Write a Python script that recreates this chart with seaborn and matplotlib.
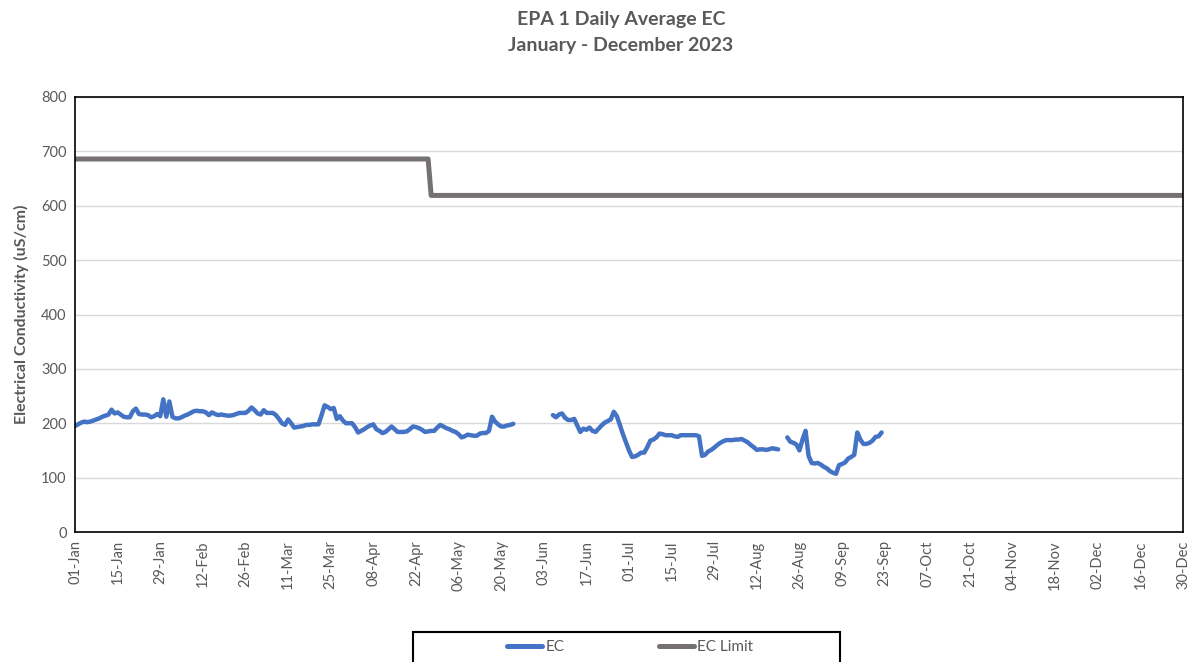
import numpy as np
import pandas as pd
import matplotlib
matplotlib.use("Agg")
import matplotlib.pyplot as plt
from matplotlib.patches import Rectangle
from matplotlib.lines import Line2D
import seaborn as sns

# --- data (x = day of year, 0 = 01-Jan) ---
tick_labels = ["01-Jan", "15-Jan", "29-Jan", "12-Feb", "26-Feb", "11-Mar", "25-Mar",
               "08-Apr", "22-Apr", "06-May", "20-May", "03-Jun", "17-Jun", "01-Jul",
               "15-Jul", "29-Jul", "12-Aug", "26-Aug", "09-Sep", "23-Sep", "07-Oct",
               "21-Oct", "04-Nov", "18-Nov", "02-Dec", "16-Dec", "30-Dec"]

# EC daily averages, three runs of data separated by gaps
ec_start_1 = 0
ec_run_1 = [195, 198, 201, 203, 202, 203, 205, 207, 209, 212, 214, 216, 225, 218, 220,
            216, 212, 211, 211, 222, 227, 217, 216, 216, 215, 211, 213, 217, 213, 244,
            212, 240, 212, 209, 209, 211, 214, 216, 219, 222, 223, 222, 222, 220, 215,
            220, 217, 215, 216, 215, 214, 214, 215, 217, 219, 219, 219, 223, 229, 224,
            218, 216, 224, 219, 219, 219, 215, 208, 200, 197, 207, 200, 192, 193, 194,
            195, 197, 197, 198, 198, 198, 215, 233, 230, 226, 228, 208, 213, 205, 200,
            200, 200, 193, 183, 186, 189, 193, 196, 198, 189, 186, 182, 184, 189, 194,
            189, 184, 184, 184, 185, 189, 194, 193, 191, 188, 184, 185, 186, 186, 192,
            197, 194, 191, 189, 186, 184, 180, 174, 176, 179, 178, 177, 177, 181, 182,
            182, 186, 212, 203, 198, 194, 194, 196, 197, 199]

ec_start_2 = 157
ec_run_2 = [215, 211, 216, 218, 210, 206, 206, 208, 196, 184, 190, 188, 192, 186, 184,
            190, 196, 201, 204, 207, 221, 213, 197, 180, 165, 150, 138, 139, 142, 146,
            146, 156, 168, 170, 174, 181, 180, 178, 178, 178, 176, 175, 178, 178, 178,
            178, 178, 178, 176, 140, 142, 148, 151, 155, 160, 164, 167, 169, 169, 169,
            170, 170, 171, 168, 165, 160, 156, 151, 152, 152, 151, 152, 154, 153, 152]

ec_start_3 = 234
ec_run_3 = [174, 166, 164, 161, 150, 170, 186, 140, 127, 126, 127, 124, 120, 117, 112,
            109, 107, 123, 125, 128, 135, 138, 142, 183, 170, 162, 162, 164, 168, 175,
            176, 183]

# EC limit (step down at end of April)
limit_days = [0, 116, 117, 364]
limit_vals = [686, 686, 619, 619]

EC_COLOR = "#4472C4"
LIMIT_COLOR = "#767171"
TEXT_COLOR = "#595959"

# build long tables for seaborn
frames = []
for seg, (start, vals) in enumerate([(ec_start_1, ec_run_1),
                                     (ec_start_2, ec_run_2),
                                     (ec_start_3, ec_run_3)]):
    frames.append(pd.DataFrame({"day": np.arange(start, start + len(vals)),
                                "ec": vals, "segment": seg}))
ec_df = pd.concat(frames, ignore_index=True)
limit_df = pd.DataFrame({"day": limit_days, "limit": limit_vals})

sns.set_theme(style="white")
plt.rcParams["font.family"] = ["Lato", "DejaVu Sans"]

fig = plt.figure(figsize=(11.94, 6.62), dpi=100)
ax = fig.add_axes([75 / 1194, 1 - 532 / 662, (1183 - 75) / 1194, (532 - 97) / 662])

sns.lineplot(data=limit_df, x="day", y="limit", color=LIMIT_COLOR, linewidth=3.6,
             ax=ax, estimator=None)
sns.lineplot(data=ec_df, x="day", y="ec", units="segment", estimator=None,
             color=EC_COLOR, linewidth=3.2, ax=ax)

ax.set_xlim(0, 364)
ax.set_ylim(0, 800)
ax.set_xticks(np.arange(0, 365, 14))
ax.set_xticklabels(tick_labels, rotation=90, fontsize=10.5, color=TEXT_COLOR)
ax.set_yticks(np.arange(0, 801, 100))
ax.set_yticklabels([str(v) for v in range(0, 801, 100)], fontsize=10.5, color=TEXT_COLOR)
ax.tick_params(axis="both", length=0, pad=6)
ax.yaxis.grid(True, color="#D9D9D9", linewidth=1)
ax.set_axisbelow(True)
for sp in ax.spines.values():
    sp.set_color("black")
    sp.set_linewidth(1.2)

ax.set_xlabel("")
ax.set_ylabel("Electrical Conductivity (uS/cm)", fontsize=11.5, fontweight="bold",
              color=TEXT_COLOR, labelpad=9)

fig.text(621 / 1194, 1 - 19 / 662, "EPA 1 Daily Average EC", ha="center", va="center",
         fontsize=14, fontweight="bold", color=TEXT_COLOR)
fig.text(621 / 1194, 1 - 46 / 662, "January - December 2023", ha="center", va="center",
         fontsize=14, fontweight="bold", color=TEXT_COLOR)

# legend box (runs off the bottom of the image like the original)
fig.patches.append(Rectangle((413 / 1194, -0.05), (840 - 413) / 1194, 0.05 + (662 - 632) / 662,
                             transform=fig.transFigure, fill=False, edgecolor="black",
                             linewidth=1.5, clip_on=False))
handles = [Line2D([], [], color=EC_COLOR, linewidth=3.6),
           Line2D([], [], color=LIMIT_COLOR, linewidth=3.6)]
leg = fig.legend(handles, ["EC", "EC Limit"], loc="center", ncol=2,
                 bbox_to_anchor=(630 / 1194, 1 - 647 / 662), frameon=False,
                 fontsize=11, handlelength=2.3, handletextpad=0.2, columnspacing=6.2)
for t in leg.get_texts():
    t.set_color(TEXT_COLOR)

fig.savefig("out.png", dpi=100)
